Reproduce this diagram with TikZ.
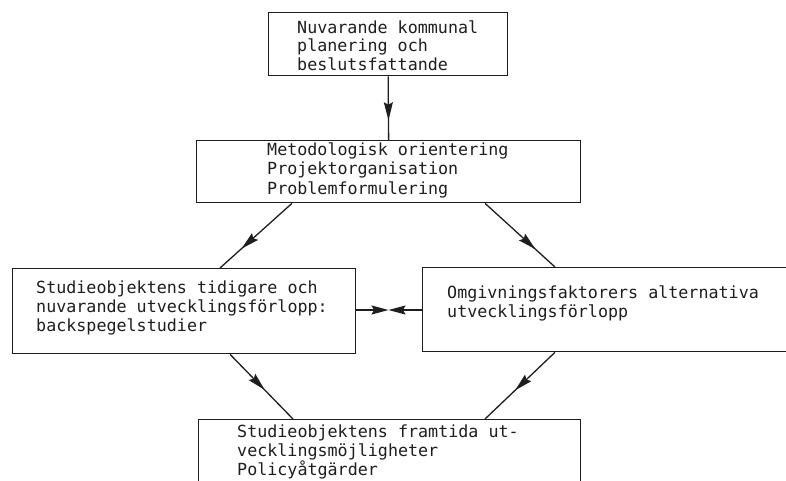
\documentclass[tikz,border=0pt]{standalone}
\usepackage{fontspec}
\setmonofont{DejaVu Sans Mono}
\usetikzlibrary{arrows.meta,decorations.markings}
\definecolor{ink}{HTML}{1E1E1E}
\tikzset{
  box/.style={draw=ink, line width=1.3pt, rectangle, inner sep=0pt, anchor=north west},
  txt/.style={text=ink, inner sep=0pt, anchor=north west, align=left,
    font=\ttfamily\fontsize{16.7}{19.3}\selectfont},
  link/.style={draw=ink, line width=1.3pt},
  midarrow/.style={link, postaction={decorate},
    decoration={markings, mark=at position #1 with
      {\arrow{Stealth[length=18pt,width=9pt,inset=2.5pt]}}}},
  tiparrow/.style={link, -{Stealth[length=17pt,width=9pt,inset=2.5pt]}}
}
\begin{document}
\begin{tikzpicture}[x=1pt,y=-1pt]
  \useasboundingbox (0,0) rectangle (786,480);
  \clip (0,0) rectangle (786,480);
  \fill[white] (0,0) rectangle (786,480);

  % boxes
  \node[box, minimum width=239pt, minimum height=63pt] (b1) at (268,12) {};
  \node[box, minimum width=384pt, minimum height=62pt] (b2) at (196,140) {};
  \node[box, minimum width=343pt, minimum height=85pt] (b3) at (12,268) {};
  \node[box, minimum width=378pt, minimum height=84pt] (b4) at (422,267) {};
  \node[box, minimum width=382pt, minimum height=81pt] (b5) at (198,419) {};

  % texts
  \node[txt, font=\ttfamily\fontsize{16.7}{18.5}\selectfont] (t1) at (297,20.5)
    {Nuvarande kommunal\\planering och\\beslutsfattande};
  \node[txt] (t2) at (267,142.5)
    {Metodologisk orientering\\Projektorganisation\\Problemformulering};
  \node[txt] (t3) at (36,280.5)
    {Studieobjektens tidigare och\\nuvarande utvecklingsförlopp:\\backspegelstudier};
  \node[txt] (t4) at (447,285.5)
    {Omgivningsfaktorers alternativa\\utvecklingsförlopp};
  \node[txt] (t5) at (237,424.5)
    {Studieobjektens framtida ut-\\vecklingsmöjligheter\\Policyåtgärder};

  % connectors
  \draw[midarrow=0.69] (b1.south) -- (b2.north);
  \draw[midarrow=0.70] ([xshift=96pt]b2.south west) -- ([xshift=208pt]b3.north west);
  \draw[midarrow=0.72] ([xshift=289pt]b2.south west) -- ([xshift=133pt]b4.north west);
  \draw[midarrow=0.55] ([xshift=218pt]b3.south west) -- ([xshift=95pt]b5.north west);
  \draw[midarrow=0.57] ([xshift=133pt]b4.south west) -- ([xshift=287pt]b5.north west);

  \coordinate (mid) at (388.5,310);
  \draw[tiparrow] (b3.east |- mid) -- (mid);
  \draw[tiparrow] (b4.west |- mid) -- (mid);
\end{tikzpicture}
\end{document}
